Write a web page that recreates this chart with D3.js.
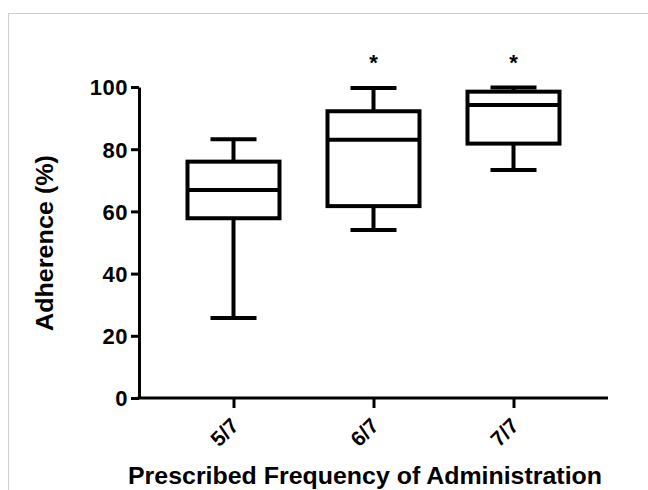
<!DOCTYPE html>
<html>
<head>
<meta charset="utf-8">
<script src="https://cdn.jsdelivr.net/npm/d3@7"></script>
<style>
  body { margin: 0; background: #fff; }
  text { font-family: "Liberation Sans", Arial, sans-serif; font-weight: bold; fill: #000; }
</style>
</head>
<body>
<svg id="chart" width="648" height="490"></svg>
<script>
// data
var groups = ["5/7", "6/7", "7/7"];
var whiskerLow = [25.7, 54.0, 73.3];
var quart1 = [57.8, 61.7, 81.8];
var medians = [66.9, 83.0, 94.2];
var quart3 = [76.0, 92.2, 98.5];
var whiskerHigh = [83.2, 99.7, 99.8];
var starred = [false, true, true];
var yTicks = [0, 20, 40, 60, 80, 100];

// layout
var axisLeft = 139, axisRight = 608;
var axisTop = 87, axisBottom = 398;
var boxW = 92, capW = 46;

var svg = d3.select("#chart");

// light frame
svg.append("rect")
    .attr("x", 8.5).attr("y", 13.5)
    .attr("width", 700).attr("height", 700)
    .attr("fill", "none")
    .attr("stroke", "#cfcfcf")
    .attr("stroke-width", 1);

var x = d3.scalePoint().domain(groups).range([axisLeft, axisRight]).padding(0.675);
var y = d3.scaleLinear().domain([0, 100]).range([axisBottom, axisTop]);

// y axis
var gy = svg.append("g")
    .attr("transform", "translate(" + axisLeft + ",0)")
    .call(d3.axisLeft(y).tickValues(yTicks).tickSize(8).tickPadding(3).tickSizeOuter(0));
gy.select(".domain").attr("stroke-width", 3).attr("stroke", "#000");
gy.selectAll(".tick line").attr("stroke-width", 3).attr("stroke", "#000");
gy.selectAll(".tick text")
    .style("font-size", "22px")
    .style("letter-spacing", "0.5px")
    .attr("dy", "0.36em");

// x axis
var gx = svg.append("g")
    .attr("transform", "translate(0," + axisBottom + ")")
    .call(d3.axisBottom(x).tickSize(10).tickSizeOuter(0));
gx.select(".domain").attr("d", "M" + (axisLeft - 1.5) + ",0H" + axisRight)
    .attr("stroke-width", 3).attr("stroke", "#000");
gx.selectAll(".tick line").attr("stroke-width", 3).attr("stroke", "#000");
gx.selectAll(".tick text")
    .style("font-size", "21px")
    .attr("text-anchor", "end")
    .attr("dy", null)
    .attr("y", 0)
    .attr("transform", "translate(6,29) rotate(-45)");

// boxes
var boxes = svg.append("g").selectAll("g")
    .data(groups)
    .join("g");

boxes.append("line")
    .attr("x1", d => x(d)).attr("x2", d => x(d))
    .attr("y1", (d, i) => y(whiskerHigh[i])).attr("y2", (d, i) => y(quart3[i]));
boxes.append("line")
    .attr("x1", d => x(d)).attr("x2", d => x(d))
    .attr("y1", (d, i) => y(quart1[i])).attr("y2", (d, i) => y(whiskerLow[i]));
boxes.append("line")
    .attr("x1", d => x(d) - capW / 2).attr("x2", d => x(d) + capW / 2)
    .attr("y1", (d, i) => y(whiskerHigh[i])).attr("y2", (d, i) => y(whiskerHigh[i]));
boxes.append("line")
    .attr("x1", d => x(d) - capW / 2).attr("x2", d => x(d) + capW / 2)
    .attr("y1", (d, i) => y(whiskerLow[i])).attr("y2", (d, i) => y(whiskerLow[i]));
boxes.append("rect")
    .attr("x", d => x(d) - boxW / 2)
    .attr("y", (d, i) => y(quart3[i]))
    .attr("width", boxW)
    .attr("height", (d, i) => y(quart1[i]) - y(quart3[i]))
    .attr("fill", "#fff");
boxes.append("line")
    .attr("x1", d => x(d) - boxW / 2).attr("x2", d => x(d) + boxW / 2)
    .attr("y1", (d, i) => y(medians[i])).attr("y2", (d, i) => y(medians[i]));
boxes.selectAll("line, rect")
    .attr("stroke", "#000")
    .attr("stroke-width", 4);

// significance marks
boxes.filter((d, i) => starred[i])
    .append("text")
    .attr("x", d => x(d))
    .attr("y", 70)
    .attr("text-anchor", "middle")
    .style("font-size", "22px")
    .text("*");

// axis titles
svg.append("text")
    .attr("transform", "translate(53,243) rotate(-90)")
    .attr("text-anchor", "middle")
    .attr("textLength", 176)
    .attr("lengthAdjust", "spacingAndGlyphs")
    .style("font-size", "24px")
    .text("Adherence (%)");

svg.append("text")
    .attr("x", 365)
    .attr("y", 484)
    .attr("text-anchor", "middle")
    .attr("textLength", 474)
    .attr("lengthAdjust", "spacingAndGlyphs")
    .style("font-size", "24px")
    .text("Prescribed Frequency of Administration");
</script>
</body>
</html>
